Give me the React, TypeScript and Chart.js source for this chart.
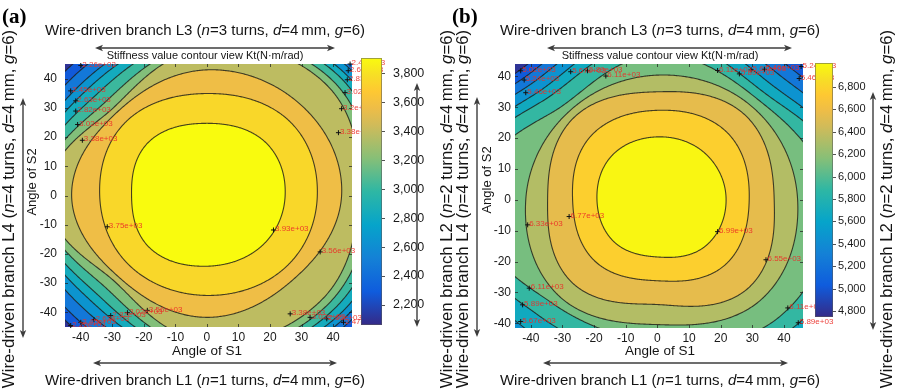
import React, { useEffect, useRef } from 'react';
import { Chart, registerables } from 'chart.js';

Chart.register(...registerables);

// ---------------- data ----------------
// contour levels of Kt (N·m/rad)
const LEVELS_A = [2100, 2283, 2467, 2650, 2833, 3017, 3200, 3383, 3567, 3750, 3933];
const LEVELS_B = [4800, 5019, 5238, 5457, 5676, 5895, 6114, 6333, 6552, 6771, 6990];

// directions (deg, from the +S1 axis) along which each contour's distance from (0,0) was read
const RAY_ANGLES = [0, 45, 90, 135, 180, 225, 270, 315];

// distance (deg of joint angle) of each contour level along the rays, one row per level
const RADII_A = [
  [70, 72, 68, 66, 68, 66, 68, 70],
  [66, 68, 62, 61.9, 62, 62, 62.5, 65],
  [63, 65, 60.7, 58.7, 60.7, 59, 60.7, 62.5],
  [60, 62.7, 58.4, 55.2, 58.4, 55, 58.4, 60.5],
  [58, 60.5, 56.6, 52.5, 56.6, 51.5, 56.6, 58.5],
  [55, 58.5, 55, 49.2, 55, 48.5, 55, 56],
  [51.3, 56, 52.6, 45.4, 52.6, 45, 52.6, 53.5],
  [48, 53.6, 50.7, 42.2, 50.7, 41.5, 50, 51],
  [42.7, 43, 43, 40.3, 42.9, 39.5, 41.7, 39.7],
  [35, 36.5, 34.9, 36, 34, 34.3, 34.2, 35],
  [24.8, 26, 24.7, 26, 23.9, 25.5, 24.2, 24.5],
];
const RADII_B = [
  [82, 68, 72, 63, 84, 76, 75, 80],
  [78, 64, 68, 60.3, 80, 72, 71, 76],
  [74, 60, 64, 57.5, 76, 68, 67, 72],
  [70, 56, 60, 54.5, 72, 64, 63, 68],
  [66, 52, 56, 51, 68, 59, 58, 64],
  [62, 48.5, 52, 47.7, 64, 53, 52, 59.5],
  [54, 45.5, 47, 42.8, 58, 47.2, 46, 54],
  [44.3, 42.5, 40.4, 40, 41.6, 44, 40.4, 46],
  [36.9, 39, 35, 37.5, 34.7, 38, 33.9, 40.5],
  [29, 31, 29, 29.5, 26.8, 28, 26.2, 30],
  [21.7, 21.3, 20.4, 20.3, 19.1, 19.3, 18.5, 21.3],
];

const CB_RANGE_A = [2062, 3905];
const CB_RANGE_B = [4746, 7014];
const CB_TICKS_A = [2200, 2400, 2600, 2800, 3000, 3200, 3400, 3600, 3800];
const CB_TICKS_B = [4800, 5000, 5200, 5400, 5600, 5800, 6000, 6200, 6400, 6600, 6800];

const AXIS_TICKS = [-40, -30, -20, -10, 0, 10, 20, 30, 40];

// contour labels (clabel) positions in data units and their texts
const LBL_A_X = [-40, -43.2, -41.6, -41.6, -41, -39.5, 45.4, 44.8, 44.5, 43.8, 42.7, 41.7, -31.6, 21.1, 35.9, -43.2, -40, -35.8, -30.5, -25.2, -18.9, 26.4, 32.7, 38, 43.3];
const LBL_A_Y = [44.5, 35.8, 32.4, 28.9, 24.3, 18.9, 45, 42.7, 39.6, 35.2, 29.7, 21.5, -10.7, -11.8, -19.3, -44.5, -43.4, -42.5, -41.1, -40.1, -39.3, -40.5, -41.7, -42.2, -43.4];
const LBL_A_TEXT = ['2.26e+03', '2.45e+03', '2.63e+03', '2.82e+03', '3.02e+03', '3.38e+03', '2.47e+03', '2.65e+03', '2.83e+03', '3.02e+03', '3.2e+03', '3.38e+03', '3.75e+03', '3.93e+03', '3.56e+03', '2.26e+03', '2.45e+03', '2.63e+03', '2.82e+03', '3.02e+03', '3.56e+03', '3.38e+03', '3.02e+03', '2.65e+03', '2.47e+03'];

const LBL_B_X = [-43.2, -42.1, -41.6, -27.4, -22.1, -16.3, 19, 25.9, 29.6, 33.8, 45.4, 44.8, -41, -27.9, 19, 34.3, -40.5, -42.6, -43.2, 41.2, 44.5];
const LBL_B_Y = [41.8, 38.8, 34.7, 41.5, 41.8, 40.1, 41.9, 40.8, 42.1, 42.3, 43.2, 39.3, -8.1, -5.4, -10.3, -19.4, -28.6, -34, -39.4, -35, -39.8];
const LBL_B_TEXT = ['5.02e+03', '5.24e+03', '5.46e+03', '5.67e+03', '5.89e+03', '6.11e+03', '6.11e+03', '5.89e+03', '5.67e+03', '5.46e+03', '5.24e+03', '5.46e+03', '6.33e+03', '6.77e+03', '6.99e+03', '6.55e+03', '6.11e+03', '5.89e+03', '5.67e+03', '6.11e+03', '5.89e+03'];

// ---------------- styling / layout ----------------
const SANS = "'Liberation Sans', Arial, Helvetica, sans-serif";
const SERIF = "'Liberation Serif', 'Times New Roman', serif";
const PARULA_POS = [0, 0.125, 0.25, 0.375, 0.5, 0.625, 0.75, 0.8125, 0.875, 0.9375, 1];
const PARULA = ['#352a87', '#0f5cdd', '#1481d6', '#06a4ca', '#2eb7a4', '#87bf77', '#d1bb59', '#eebd47', '#fec832', '#f7df25', '#f9fb0e'];
const PARULA_RGB = PARULA.map((h) => [parseInt(h.slice(1, 3), 16), parseInt(h.slice(3, 5), 16), parseInt(h.slice(5, 7), 16)]);

function parula(t: number): number[] {
  const tt = Math.max(0, Math.min(1, t));
  let i = 0;
  while (i < PARULA_POS.length - 2 && tt > PARULA_POS[i + 1]) i++;
  const f = (tt - PARULA_POS[i]) / (PARULA_POS[i + 1] - PARULA_POS[i]);
  const a = PARULA_RGB[i];
  const b = PARULA_RGB[i + 1];
  return [a[0] + (b[0] - a[0]) * f, a[1] + (b[1] - a[1]) * f, a[2] + (b[2] - a[2]) * f];
}

// periodic Catmull-Rom of each level's radius over the ray directions
function radialEval(radii: number[][], thetaDeg: number, out: Float64Array) {
  const n = RAY_ANGLES.length;
  const step = 360 / n;
  const u = ((((thetaDeg - RAY_ANGLES[0]) % 360) + 360) % 360) / step;
  let i = Math.floor(u);
  const t = u - i;
  i = i % n;
  const t2 = t * t;
  const t3 = t2 * t;
  const w0 = -0.5 * t + t2 - 0.5 * t3;
  const w1 = 1 - 2.5 * t2 + 1.5 * t3;
  const w2 = 0.5 * t + 2 * t2 - 1.5 * t3;
  const w3 = -0.5 * t2 + 0.5 * t3;
  const i0 = (i - 1 + n) % n;
  const i2 = (i + 1) % n;
  const i3 = (i + 2) % n;
  for (let k = 0; k < radii.length; k++) {
    const r = radii[k];
    out[k] = w0 * r[i0] + w1 * r[i] + w2 * r[i2] + w3 * r[i3];
  }
}

type Seg = { t: string; i?: boolean };
function branchSegs(L: number, n: number): Seg[] {
  return [
    { t: `Wire-driven branch L${L} (` },
    { t: 'n', i: true },
    { t: `=${n} turns, ` },
    { t: 'd', i: true },
    { t: '=4\u2009mm, ' },
    { t: 'g', i: true },
    { t: '=6)' },
  ];
}

function drawRich(ctx: CanvasRenderingContext2D, segs: Seg[], cx: number, cy: number, size: number, rot: number) {
  ctx.save();
  ctx.translate(cx, cy);
  ctx.rotate(rot);
  const fontOf = (s: Seg) => `${s.i ? 'italic ' : ''}${size}px ${SANS}`;
  let total = 0;
  const ws = segs.map((s) => {
    ctx.font = fontOf(s);
    const w = ctx.measureText(s.t).width;
    total += w;
    return w;
  });
  let x = -total / 2;
  ctx.textBaseline = 'middle';
  ctx.textAlign = 'left';
  ctx.fillStyle = '#141414';
  segs.forEach((s, k) => {
    ctx.font = fontOf(s);
    ctx.fillText(s.t, x, 0);
    x += ws[k];
  });
  ctx.restore();
}

function drawArrow(ctx: CanvasRenderingContext2D, x1: number, y1: number, x2: number, y2: number) {
  const a = Math.atan2(y2 - y1, x2 - x1);
  const hl = 8;
  const hw = 3.2;
  const c = Math.cos(a);
  const s = Math.sin(a);
  ctx.save();
  ctx.strokeStyle = '#3c3c3c';
  ctx.fillStyle = '#3c3c3c';
  ctx.lineWidth = 1.4;
  ctx.beginPath();
  ctx.moveTo(x1 + c * hl * 0.7, y1 + s * hl * 0.7);
  ctx.lineTo(x2 - c * hl * 0.7, y2 - s * hl * 0.7);
  ctx.stroke();
  const head = (x: number, y: number, cc: number, ss: number) => {
    ctx.beginPath();
    ctx.moveTo(x, y);
    ctx.lineTo(x - hl * cc + hw * ss, y - hl * ss - hw * cc);
    ctx.lineTo(x - hl * cc * 0.75, y - hl * ss * 0.75);
    ctx.lineTo(x - hl * cc - hw * ss, y - hl * ss + hw * cc);
    ctx.closePath();
    ctx.fill();
  };
  head(x2, y2, c, s);
  head(x1, y1, -c, -s);
  ctx.restore();
}

const fmtTick = (v: number | string) => String(Number(v));

const PANEL_A = {
  tag: '(a)',
  radii: RADII_A,
  levels: LEVELS_A,
  cb: CB_RANGE_A,
  cbTicks: CB_TICKS_A,
  lblX: LBL_A_X,
  lblY: LBL_A_Y,
  lblText: LBL_A_TEXT,
  yMin: -45,
  yMax: 45,
  area: { l: 65, r: 352, t: 64, b: 327 },
  yPad: 8,
  cbBox: { x: 361, w: 21, t: 58, b: 325 },
  cbLabelX: 393,
  cbFont: 12.5,
  tagX: 2,
  titleX: 205,
  topArrow: [95, 335],
  leftTextX: 9,
  leftArrow: { x: 23, t: 98, b: 338 },
  s2X: 32,
  s2Y: 182,
  rightArrow: { x: 417, t: 83, b: 327 },
  rightTextX: 447,
  s1X: 207,
  botArrow: [93, 337],
};

const PANEL_B = {
  tag: '(b)',
  radii: RADII_B,
  levels: LEVELS_B,
  cb: CB_RANGE_B,
  cbTicks: CB_TICKS_B,
  lblX: LBL_B_X,
  lblY: LBL_B_Y,
  lblText: LBL_B_TEXT,
  yMin: -41.5,
  yMax: 44,
  area: { l: 64, r: 352, t: 64, b: 328 },
  yPad: 4,
  cbBox: { x: 364, w: 18, t: 63, b: 317 },
  cbLabelX: 387,
  cbFont: 11,
  tagX: 1,
  titleX: 209,
  topArrow: [96, 341],
  leftTextX: 12,
  leftArrow: { x: 26, t: 97, b: 337 },
  s2X: 36,
  s2Y: 180,
  rightArrow: { x: 422, t: 92, b: 330 },
  rightTextX: 436,
  s1X: 209,
  botArrow: [92, 337],
};

type Panel = typeof PANEL_A;

function contourPlugin(P: Panel) {
  return {
    id: 'contourFill',
    beforeDatasetsDraw(chart: any) {
      const { ctx, chartArea, scales } = chart;
      const sx = scales.x;
      const sy = scales.y;
      const L = Math.round(chartArea.left);
      const T = Math.round(chartArea.top);
      const W = Math.round(chartArea.right) - L;
      const H = Math.round(chartArea.bottom) - T;
      const lv = P.levels;
      const nL = lv.length;
      const span = P.cb[1] - P.cb[0];
      const bandCols = [parula(0)].concat(lv.map((l) => parula((l - P.cb[0]) / span)));
      const rk = new Float64Array(nL);

      // filled bands
      const off = document.createElement('canvas');
      off.width = W;
      off.height = H;
      const octx = off.getContext('2d')!;
      const img = octx.createImageData(W, H);
      const d = img.data;
      const xv: number[] = [];
      for (let i = 0; i < W; i++) xv.push(sx.getValueForPixel(L + i + 0.5));
      for (let j = 0; j < H; j++) {
        const y = sy.getValueForPixel(T + j + 0.5);
        for (let i = 0; i < W; i++) {
          const x = xv[i];
          const r = Math.hypot(x, y);
          radialEval(P.radii, (Math.atan2(y, x) * 180) / Math.PI, rk);
          let k = 0;
          while (k < nL && r < rk[k]) k++;
          const c = bandCols[k];
          const o = (j * W + i) * 4;
          d[o] = c[0];
          d[o + 1] = c[1];
          d[o + 2] = c[2];
          d[o + 3] = 255;
        }
      }
      octx.putImageData(img, 0, 0);
      ctx.save();
      ctx.drawImage(off, L, T);
      ctx.beginPath();
      ctx.rect(L, T, W, H);
      ctx.clip();

      // contour lines
      ctx.strokeStyle = 'rgba(30,30,24,0.82)';
      ctx.lineWidth = 1.1;
      ctx.lineJoin = 'round';
      for (let k = 0; k < nL; k++) {
        ctx.beginPath();
        for (let a = 0; a <= 720; a++) {
          const th = a * 0.5;
          radialEval(P.radii, th, rk);
          const rad = (th * Math.PI) / 180;
          const px = sx.getPixelForValue(rk[k] * Math.cos(rad));
          const py = sy.getPixelForValue(rk[k] * Math.sin(rad));
          if (a === 0) ctx.moveTo(px, py);
          else ctx.lineTo(px, py);
        }
        ctx.closePath();
        ctx.stroke();
      }

      // small inward tick marks on the box
      ctx.strokeStyle = 'rgba(30,30,30,0.7)';
      ctx.lineWidth = 1;
      ctx.beginPath();
      for (const v of AXIS_TICKS) {
        const px = Math.round(sx.getPixelForValue(v)) + 0.5;
        ctx.moveTo(px, T + H);
        ctx.lineTo(px, T + H - 3);
        ctx.moveTo(px, T);
        ctx.lineTo(px, T + 3);
        const py = sy.getPixelForValue(v);
        if (py > T && py < T + H) {
          const qy = Math.round(py) + 0.5;
          ctx.moveTo(L, qy);
          ctx.lineTo(L + 3, qy);
          ctx.moveTo(L + W, qy);
          ctx.lineTo(L + W - 3, qy);
        }
      }
      ctx.stroke();
      ctx.restore();
    },
  };
}

function decorPlugin(P: Panel) {
  return {
    id: 'decor',
    afterDatasetsDraw(chart: any) {
      const { ctx, scales } = chart;
      ctx.save();
      ctx.font = `8px ${SANS}`;
      ctx.fillStyle = 'rgba(235,45,40,0.9)';
      ctx.textBaseline = 'middle';
      ctx.textAlign = 'left';
      P.lblX.forEach((x, k) => {
        const px = scales.x.getPixelForValue(x);
        const py = scales.y.getPixelForValue(P.lblY[k]);
        ctx.fillText(P.lblText[k], px + 1.5, py - 1);
      });
      ctx.restore();
    },
    afterDraw(chart: any) {
      const ctx: CanvasRenderingContext2D = chart.ctx;
      ctx.save();
      // colour bar
      const cb = P.cbBox;
      const g = ctx.createLinearGradient(0, cb.b, 0, cb.t);
      PARULA.forEach((c, i) => g.addColorStop(PARULA_POS[i], c));
      ctx.fillStyle = g;
      ctx.fillRect(cb.x, cb.t, cb.w, cb.b - cb.t);
      ctx.strokeStyle = 'rgba(90,90,90,0.55)';
      ctx.lineWidth = 1;
      ctx.strokeRect(cb.x + 0.5, cb.t + 0.5, cb.w - 1, cb.b - cb.t - 1);
      ctx.font = `${P.cbFont}px ${SANS}`;
      ctx.fillStyle = '#1a1a1a';
      ctx.textAlign = 'left';
      ctx.textBaseline = 'middle';
      ctx.strokeStyle = 'rgba(40,40,40,0.8)';
      P.cbTicks.forEach((v) => {
        const py = cb.b - ((v - P.cb[0]) / (P.cb[1] - P.cb[0])) * (cb.b - cb.t);
        ctx.beginPath();
        ctx.moveTo(cb.x + cb.w, Math.round(py) + 0.5);
        ctx.lineTo(cb.x + cb.w + 3, Math.round(py) + 0.5);
        ctx.stroke();
        ctx.fillText(v.toLocaleString('en-US'), P.cbLabelX, py);
      });

      // panel tag
      ctx.font = `bold 21px ${SERIF}`;
      ctx.fillStyle = '#000';
      ctx.textBaseline = 'alphabetic';
      ctx.fillText(P.tag, P.tagX, 23);

      // top
      drawRich(ctx, branchSegs(3, 3), P.titleX, 31, 15, 0);
      drawArrow(ctx, P.topArrow[0], 48, P.topArrow[1], 48);
      ctx.font = `11px ${SANS}`;
      ctx.fillStyle = '#141414';
      ctx.textAlign = 'center';
      ctx.textBaseline = 'middle';
      ctx.fillText('Stiffness value contour view Kt(N\u00b7m/rad)', P.titleX, 56);

      // left
      drawRich(ctx, branchSegs(4, 4), P.leftTextX, 209, 16.8, -Math.PI / 2);
      drawArrow(ctx, P.leftArrow.x, P.leftArrow.b, P.leftArrow.x, P.leftArrow.t);
      drawRich(ctx, [{ t: 'Angle of S2' }], P.s2X, P.s2Y, 13, -Math.PI / 2);

      // right
      drawArrow(ctx, P.rightArrow.x, P.rightArrow.b, P.rightArrow.x, P.rightArrow.t);
      drawRich(ctx, branchSegs(2, 2), P.rightTextX, 209, 16.8, -Math.PI / 2);

      // bottom
      drawRich(ctx, [{ t: 'Angle of S1' }], P.s1X, 351, 13.5, 0);
      drawArrow(ctx, P.botArrow[0], 363, P.botArrow[1], 363);
      drawRich(ctx, branchSegs(1, 1), P.titleX, 381, 15, 0);
      ctx.restore();
    },
  };
}

function makeChart(canvas: HTMLCanvasElement, P: Panel) {
  const W = canvas.width;
  const tickFont = { family: SANS, size: 12 };
  return new Chart(canvas, {
    type: 'scatter',
    data: {
      datasets: [
        {
          data: P.lblX.map((x, k) => ({ x, y: P.lblY[k] })),
          pointStyle: 'cross',
          radius: 2.5,
          borderColor: '#111',
          backgroundColor: '#111',
          borderWidth: 1,
          clip: false,
        } as any,
      ],
    },
    options: {
      animation: false,
      responsive: false,
      maintainAspectRatio: false,
      events: [],
      layout: { autoPadding: false, padding: { left: 0, top: P.area.t, right: W - P.area.r, bottom: 0 } } as any,
      plugins: { legend: { display: false }, tooltip: { enabled: false }, title: { display: false } },
      scales: {
        x: {
          type: 'linear',
          position: 'bottom',
          min: -45,
          max: 46,
          grid: { display: false, drawTicks: false },
          border: { display: false },
          afterBuildTicks: (s: any) => {
            s.ticks = AXIS_TICKS.map((v) => ({ value: v }));
          },
          afterFit: (s: any) => {
            s.height = 392 - P.area.b;
          },
          ticks: { padding: 3, color: '#1a1a1a', font: tickFont, maxRotation: 0, autoSkip: false, callback: fmtTick },
        },
        y: {
          type: 'linear',
          position: 'left',
          min: P.yMin,
          max: P.yMax,
          grid: { display: false, drawTicks: false },
          border: { display: false },
          afterBuildTicks: (s: any) => {
            s.ticks = AXIS_TICKS.map((v) => ({ value: v }));
          },
          afterFit: (s: any) => {
            s.width = P.area.l;
          },
          ticks: { padding: P.yPad, color: '#1a1a1a', font: tickFont, autoSkip: false, callback: fmtTick },
        },
      },
    } as any,
    plugins: [contourPlugin(P), decorPlugin(P)],
  });
}

export default function App() {
  const refA = useRef<HTMLCanvasElement>(null);
  const refB = useRef<HTMLCanvasElement>(null);
  useEffect(() => {
    const charts = [makeChart(refA.current!, PANEL_A), makeChart(refB.current!, PANEL_B)];
    return () => charts.forEach((c) => c.destroy());
  }, []);
  return (
    <div style={{ position: 'absolute', left: 0, top: 0, width: 902, height: 392, background: '#fff', overflow: 'hidden' }}>
      <canvas ref={refA} width={460} height={392} style={{ position: 'absolute', left: 0, top: 0, width: 460, height: 392 }} />
      <canvas ref={refB} width={451} height={392} style={{ position: 'absolute', left: 451, top: 0, width: 451, height: 392 }} />
    </div>
  );
}
